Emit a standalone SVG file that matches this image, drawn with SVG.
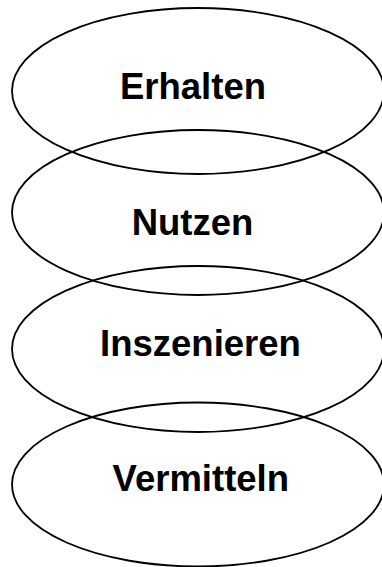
<svg xmlns="http://www.w3.org/2000/svg" width="382" height="567" viewBox="0 0 382 567">
<style>
.e{fill:none;stroke:#000;stroke-width:1.8}
.t{font-family:"Liberation Sans",Arial,sans-serif;font-weight:bold;font-size:36.5px;fill:#000;text-anchor:middle}
</style>
<rect width="382" height="567" fill="#fff"/>
<g id="erhalten"><ellipse class="e" cx="198" cy="91" rx="186" ry="83"/><text class="t" x="193" y="99">Erhalten</text></g>
<g id="nutzen"><ellipse class="e" cx="198" cy="212.5" rx="186" ry="82.5"/><text class="t" x="192.5" y="235">Nutzen</text></g>
<g id="inszenieren"><ellipse class="e" cx="198" cy="349" rx="186" ry="83"/><text class="t" x="200.5" y="356">Inszenieren</text></g>
<g id="vermitteln"><ellipse class="e" cx="198" cy="484.5" rx="186" ry="82"/><text class="t" x="200.8" y="491">Vermitteln</text></g>
<g id="connectors"></g>
</svg>
